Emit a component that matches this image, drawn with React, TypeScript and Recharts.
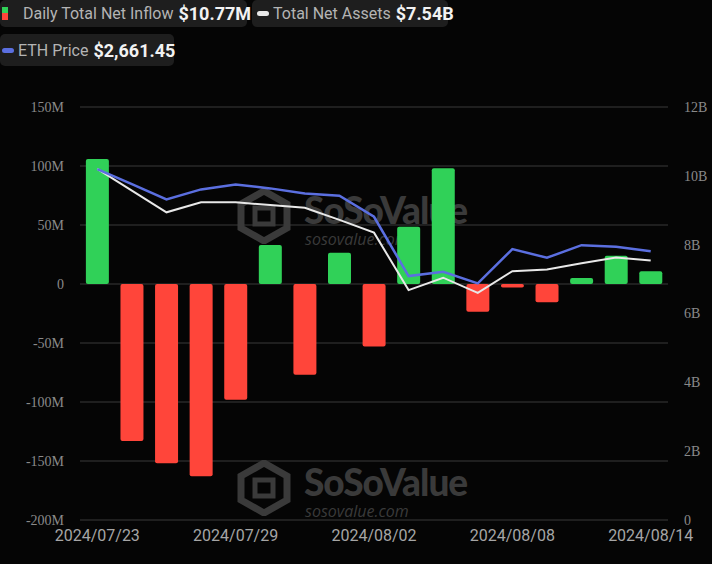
import React from 'react';
import { ComposedChart, Bar, Line, Cell, XAxis, YAxis, CartesianGrid } from 'recharts';

const dates = [
  '2024/07/23', '2024/07/24', '2024/07/25', '2024/07/26', '2024/07/29', '2024/07/30',
  '2024/07/31', '2024/08/01', '2024/08/02', '2024/08/05', '2024/08/06', '2024/08/07',
  '2024/08/08', '2024/08/09', '2024/08/12', '2024/08/13', '2024/08/14',
];
// daily net inflow, millions USD
const netInflow = [106, -133, -152, -163, -98, 33, -77, 26.5, -53, 48.5, 98, -23.5, -3, -15.5, 5, 24, 10.77];
// total net assets, billions USD
const netAssets = [10.2, 9.57, 8.94, 9.23, 9.23, 9.15, 9.07, 8.72, 8.35, 6.68, 7.04, 6.6, 7.23, 7.28, 7.46, 7.63, 7.54];
// ETH price, USD
const ethPrice = [3475, 3326, 3175, 3274, 3323, 3284, 3234, 3211, 3003, 2416, 2458, 2343, 2683, 2597, 2722, 2706, 2661.45];

const leftTicks = [-200, -150, -100, -50, 0, 50, 100, 150];
const rightTicks = [0, 2, 4, 6, 8, 10, 12];

const data = dates.map((d, i) => ({
  date: d,
  inflow: netInflow[i],
  assets: netAssets[i],
  eth: ethPrice[i],
}));

const GREEN = '#30d158';
const RED = '#ff453a';
const BLUE = '#5b6fe0';
const WHITE = '#e8e8e8';

const boxStyle: React.CSSProperties = {
  position: 'absolute',
  height: 27,
  background: '#1e1e1e',
  borderRadius: 5,
  display: 'flex',
  alignItems: 'center',
  fontFamily: 'Roboto, sans-serif',
  whiteSpace: 'nowrap',
};
const labelStyle: React.CSSProperties = { color: '#b4b4b4', fontSize: 16, marginRight: 5 };
const valueStyle: React.CSSProperties = { color: '#f2f2f2', fontSize: 18, fontWeight: 700 };
const pill = (color: string, ml: number): React.CSSProperties => ({
  width: 12, height: 5, borderRadius: 3, marginLeft: ml, marginRight: 4, background: color, flexShrink: 0,
});

const Watermark = ({ top }: { top: number }) => (
  <div style={{ position: 'absolute', left: 236, top, color: '#3a3a3a', lineHeight: 1 }}>
    <svg width={56} height={56} style={{ position: 'absolute', left: 0, top: 0 }}>
      <polygon points="28,3 51,16 51,40 28,53 5,40 5,16" fill="none" stroke="#3a3a3a" strokeWidth={7} />
      <rect x={19} y={20} width={18} height={16} fill="none" stroke="#3a3a3a" strokeWidth={5} />
    </svg>
    <div style={{ position: 'absolute', left: 68, top: 3, fontFamily: 'Lato, sans-serif', fontWeight: 900, fontSize: 37, letterSpacing: -1 }}>
      SoSoValue
    </div>
    <div style={{ position: 'absolute', left: 69, top: 43, fontFamily: 'Open Sans, sans-serif', fontStyle: 'italic', fontSize: 16 }}>
      sosovalue.com
    </div>
  </div>
);

export default function App() {
  return (
    <div style={{ position: 'fixed', left: 0, top: 0, width: 712, height: 564, background: '#050505', overflow: 'hidden' }}>
      <Watermark top={188} />
      <Watermark top={460} />

      <div style={{ ...boxStyle, left: 0, top: 0, width: 247 }}>
        <div style={{ width: 6, height: 13, marginLeft: 2, marginRight: 15, flexShrink: 0, background: `linear-gradient(${GREEN} 50%, ${RED} 50%)` }} />
        <span style={labelStyle}>Daily Total Net Inflow</span>
        <span style={valueStyle}>$10.77M</span>
      </div>
      <div style={{ ...boxStyle, left: 252, top: 0, width: 196 }}>
        <div style={pill(WHITE, 5)} />
        <span style={labelStyle}>Total Net Assets</span>
        <span style={valueStyle}>$7.54B</span>
      </div>
      <div style={{ ...boxStyle, left: 0, top: 34, height: 32, width: 174 }}>
        <div style={pill(BLUE, 2)} />
        <span style={labelStyle}>ETH Price</span>
        <span style={valueStyle}>$2,661.45</span>
      </div>

      <div style={{ position: 'absolute', left: 0, top: 0 }}>
        <ComposedChart
          width={712}
          height={564}
          data={data}
          margin={{ top: 107, right: 0, left: 0, bottom: 14 }}
          barCategoryGap="17%"
        >
          <CartesianGrid vertical={false} stroke="#3a3a3a" yAxisId="left" />
          <XAxis
            dataKey="date"
            interval={3}
            axisLine={false}
            tickLine={false}
            height={30}
            tick={{ fill: '#a6a6a6', fontSize: 16, fontFamily: 'Roboto, sans-serif' }}
            tickMargin={4}
          />
          <YAxis
            yAxisId="left"
            domain={[-200, 150]}
            ticks={leftTicks}
            width={80}
            axisLine={false}
            tickLine={false}
            tickMargin={10}
            tickFormatter={(v: number) => (v === 0 ? '0' : `${v}M`)}
            tick={{ fill: '#8a8a8a', fontSize: 14, fontFamily: 'Liberation Serif, serif' }}
          />
          <YAxis
            yAxisId="right"
            orientation="right"
            domain={[0, 12]}
            ticks={rightTicks}
            width={44}
            axisLine={false}
            tickLine={false}
            tickMargin={10}
            tickFormatter={(v: number) => (v === 0 ? '0' : `${v}B`)}
            tick={{ fill: '#8a8a8a', fontSize: 14, fontFamily: 'Liberation Serif, serif' }}
          />
          <YAxis yAxisId="eth" orientation="right" hide width={0} domain={[0, 4090]} />
          <Bar dataKey="inflow" yAxisId="left" radius={2} isAnimationActive={false}>
            {data.map((d, i) => (
              <Cell key={i} fill={d.inflow >= 0 ? GREEN : RED} />
            ))}
          </Bar>
          <Line dataKey="assets" yAxisId="right" type="linear" stroke={WHITE} strokeWidth={2} dot={false} isAnimationActive={false} />
          <Line dataKey="eth" yAxisId="eth" type="linear" stroke={BLUE} strokeWidth={2.5} dot={false} isAnimationActive={false} />
        </ComposedChart>
      </div>
    </div>
  );
}
